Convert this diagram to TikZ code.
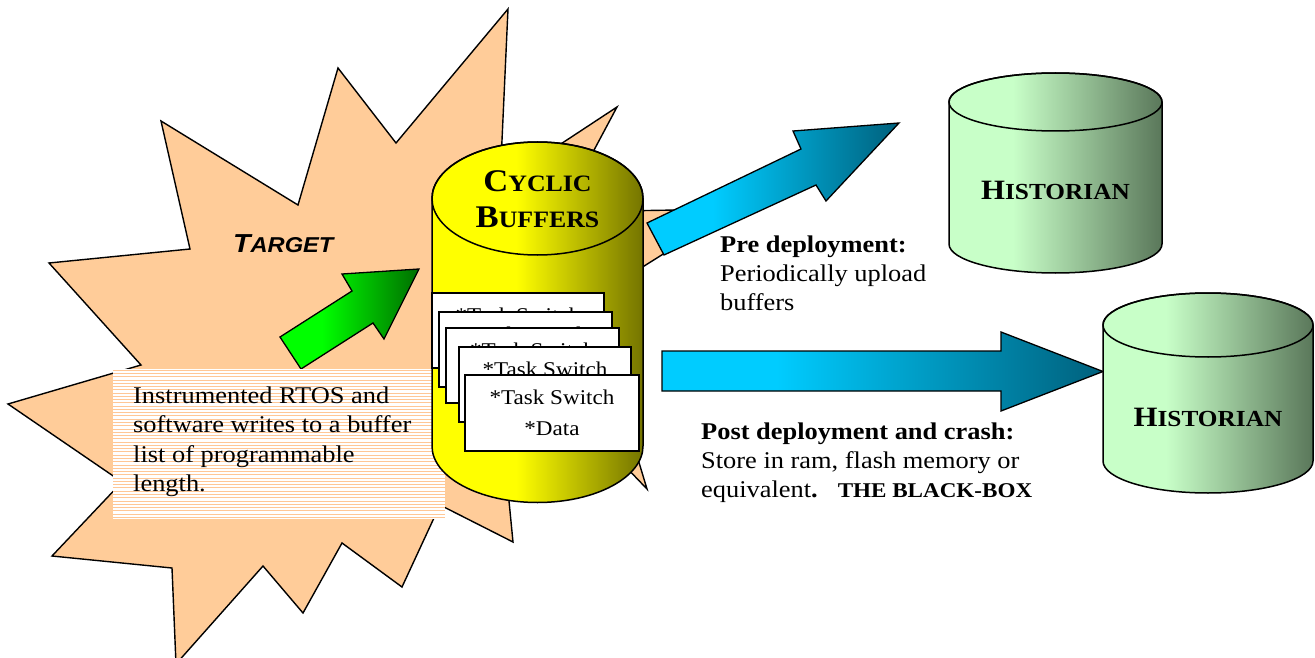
\documentclass[tikz,border=0pt]{standalone}
\usepackage{fontspec}
\setmainfont{Liberation Serif}[FakeStretch=1.1]
\newfontfamily\tgtfont{Liberation Sans}[FakeStretch=1.1]

\definecolor{peach}{HTML}{FFCC99}
\definecolor{stripecol}{HTML}{FFC796}
\definecolor{bufA}{HTML}{FFFF00}
\definecolor{bufB}{HTML}{747400}
\definecolor{histA}{HTML}{C8FFC8}
\definecolor{histB}{HTML}{5A775A}
\definecolor{blueA}{HTML}{00CCFF}
\definecolor{blueB}{HTML}{00607C}
\definecolor{grnA}{HTML}{00FF00}
\definecolor{grnB}{HTML}{006E00}

% horizontal fills; the path box covers 25bp..75bp
\pgfdeclarehorizontalshading{bufshade}{100bp}{color(0bp)=(bufA); color(25bp)=(bufA); color(45bp)=(bufA); color(75bp)=(bufB); color(100bp)=(bufB)}
\pgfdeclarehorizontalshading{histshade}{100bp}{color(0bp)=(histA); color(25bp)=(histA); color(40bp)=(histA); color(75bp)=(histB); color(100bp)=(histB)}
\pgfdeclarehorizontalshading{blueshade}{100bp}{color(0bp)=(blueA); color(25bp)=(blueA); color(38bp)=(blueA); color(75bp)=(blueB); color(100bp)=(blueB)}
\pgfdeclarehorizontalshading{grnshade}{100bp}{color(0bp)=(grnA); color(25bp)=(grnA); color(40bp)=(grnA); color(75bp)=(grnB); color(100bp)=(grnB)}

% first letter large, the rest smaller (small-caps look)
\newcommand\capword[4]{{\fontsize{#1}{#1}\selectfont #3}{\fontsize{#2}{#2}\selectfont #4}}

% drum: centre x, top y, bottom y, x radius, y radius, shading
\newcommand\drum[6]{%
  \shadedraw[shading=#6, line width=1.5pt] (#1-#4,#2) -- (#1-#4,#3)
    arc[start angle=180, end angle=0, x radius=#4, y radius=#5]
    -- (#1+#4,#2)
    arc[start angle=0, end angle=-180, x radius=#4, y radius=#5] -- cycle;
  \draw[line width=1.5pt] (#1,#2) ellipse[x radius=#4, y radius=#5];}

\tikzset{
  burst/.style={fill=peach, draw=black, line width=1.4pt, line join=miter},
  blockarrow/.style={draw=black, line width=1.3pt, line join=miter},
  card/.style={fill=white, draw=black, line width=1.6pt},
  txt/.style={inner sep=0pt, anchor=base west, font=\fontsize{24}{24}\selectfont},
  cardtxt/.style={inner sep=0pt, anchor=base, font=\fontsize{21}{21}\selectfont},
}

\begin{document}
\begin{tikzpicture}[x=1pt, y=-1pt]
\useasboundingbox (0,0) rectangle (1315,658);

% the target starburst
\draw[burst] (508,9) -- (500,184) -- (617,107) -- (561,212) -- (735,209)
  -- (590,300) -- (647,489) -- (600,440) -- (505,460) -- (513,542)
  -- (440,505) -- (402,587) -- (342,543) -- (303,613) -- (263,566)
  -- (176,664) -- (172,568) -- (52,556) -- (122,482) -- (8,404)
  -- (141,365) -- (49,263) -- (190,249) -- (161,121) -- (298,205)
  -- (338,68) -- (396,143) -- cycle;

\node[inner sep=0pt, anchor=base west] (target) at (233,252)
  {\tgtfont\bfseries\itshape\capword{26}{21.5}{T}{ARGET}};

% green arrow into the buffers
\shadedraw[shading=grnshade, blockarrow] (280,337) -- (352,291) -- (342,274)
  -- (419,269) -- (384,339) -- (373,323) -- (301,369) -- cycle;

% striped note box
\fill[white] (113,369) rectangle (445,519);
\foreach \k in {0,...,45}
  \draw[stripecol, line width=1pt] (113,370.2+\k*3.27) -- (445,370.2+\k*3.27);
\node[txt] (note1) at (133,403) {Instrumented RTOS and};
\node[txt] (note2) at (133,432.5) {software writes to a buffer};
\node[txt] (note3) at (133,462) {list of programmable};
\node[txt] (note4) at (133,491.5) {length.};

% cyclic buffers drum
\drum{537.5}{198.5}{446}{105.5}{56.5}{bufshade}
\node[inner sep=0pt, anchor=base] (cyc1) at (537.5,191)
  {\bfseries\capword{31.5}{23.5}{C}{YCLIC}};
\node[inner sep=0pt, anchor=base] (cyc2) at (537.5,227)
  {\bfseries\capword{31.5}{23.5}{B}{UFFERS}};

% stacked buffer cards, each partly covered by the next
\foreach \x/\y/\X/\Y [count=\i] in {432/293/604/368, 439/312/612/387,
    446/328/619/403, 459/347/631/422}{
  \draw[card] (\x,\y) rectangle (\X,\Y);
  \node[cardtxt] (task\i) at ({(\x+\X)/2},\y+29) {*Task Switch};
}
\draw[card] (465,375) rectangle (639,451);
\node[cardtxt] (task5) at (552,404) {*Task Switch};
\node[cardtxt] (data5) at (552,435) {*Data};

% upload arrows
\shadedraw[shading=blueshade, blockarrow] (647,223) -- (801,149) -- (793,131)
  -- (899,123) -- (826,201) -- (816,185) -- (664,255) -- cycle;
\shadedraw[shading=blueshade, blockarrow] (662,351) -- (1001,351) -- (1001,332)
  -- (1103,371.5) -- (1001,411) -- (1001,391) -- (662,391) -- cycle;

% historians
\drum{1055.5}{102}{244}{106.5}{29}{histshade}
\node[inner sep=0pt, anchor=base] (hist1) at (1055.5,199)
  {\bfseries\capword{28}{23}{H}{ISTORIAN}};
\drum{1208}{325}{461}{105}{32}{histshade}
\node[inner sep=0pt, anchor=base] (hist2) at (1208,426)
  {\bfseries\capword{28}{23}{H}{ISTORIAN}};

% captions
\node[txt] (pre1) at (720,252) {\bfseries Pre deployment:};
\node[txt] (pre2) at (720,281) {Periodically upload};
\node[txt] (pre3) at (720,310) {buffers};

\node[txt] (post1) at (701,439) {\bfseries Post deployment and crash:};
\node[txt] (post2) at (701,468) {Store in ram, flash memory or};
\node[txt] (post3) at (701,497) {equivalent\textbf{.}\hspace{20pt}{\bfseries\fontsize{21}{21}\selectfont THE BLACK-BOX}};
\end{tikzpicture}
\end{document}
